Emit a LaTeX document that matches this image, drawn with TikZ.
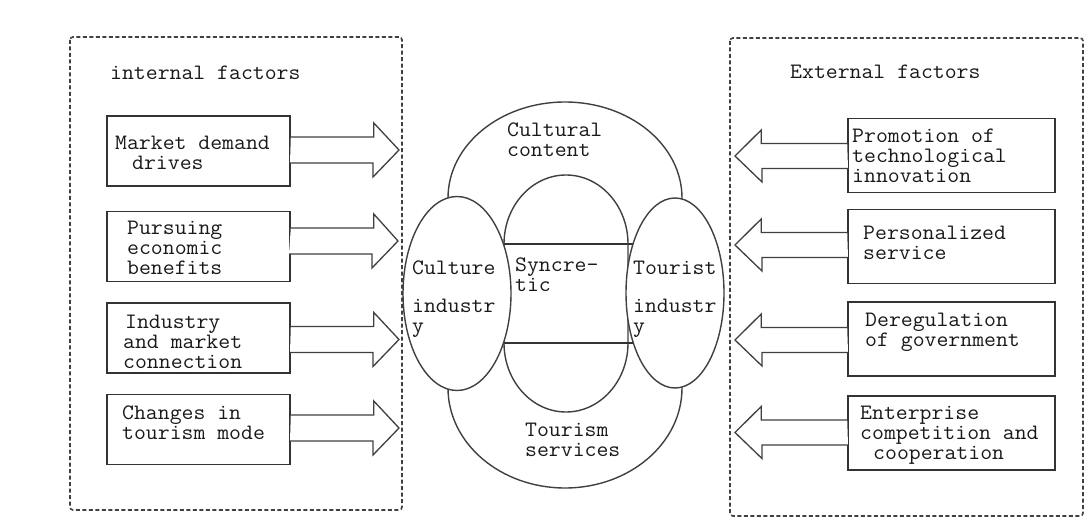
\documentclass[tikz,border=0pt]{standalone}
\usepackage{fontspec}
\setmonofont{Latin Modern Mono}[FakeStretch=1.05]
\usetikzlibrary{shapes.geometric,calc}
\begin{document}
\begin{tikzpicture}[x=1pt,y=-1pt,
  every node/.style={font=\fontsize{22}{20}\ttfamily\selectfont, text=black!90},
  lbox/.style={draw=black!80, line width=1.6pt, rectangle, minimum width=183pt, minimum height=70pt, inner sep=0pt},
  rbox/.style={draw=black!80, line width=1.6pt, rectangle, minimum width=207pt, minimum height=74pt, inner sep=0pt},
  txt/.style={anchor=west, align=left, inner sep=0pt},
  fat/.style={draw=black!75, line width=1.3pt, fill=white, line join=miter},
  frame/.style={draw=black!75, line width=1.6pt, dash pattern=on 4pt off 2.5pt},
  shape line/.style={draw=black!75, line width=1.4pt, fill=white},
  ell/.style={ellipse, draw=black!75, line width=1.4pt, fill=white, inner sep=0pt}]
\useasboundingbox (0,0) rectangle (1090,521);
\fill[white] (0,0) rectangle (1090,521);

% frames
\draw[frame, rounded corners=3pt] (70,37) rectangle (402,510);
\draw[frame, rounded corners=3pt] (730,38) rectangle (1083,516);
\node[txt] (hin) at (110,73) {internal factors};
\node[txt] (hex) at (790,72) {External factors};

% left boxes
\node[lbox] (L1) at (198.5,151) {};
\node[lbox] (L2) at (198.5,246.5) {};
\node[lbox] (L3) at (198.5,338) {};
\node[lbox] (L4) at (198.5,429.5) {};
\node[txt] (tL1) at (115,153) {Market demand\\\hspace*{17pt}drives};
\node[txt] (tL2) at (127,248) {Pursuing\\economic\\benefits};
\node[txt] (tL3) at (123,341.5) {\hspace*{2pt}Industry\\and market\\connection};
\node[txt] (tL4) at (122,423) {Changes in\\tourism mode};

% right boxes
\node[rbox] (R1) at (951.5,155.5) {};
\node[rbox] (R2) at (951.5,246.5) {};
\node[rbox] (R3) at (951.5,339) {};
\node[rbox] (R4) at (951.5,433) {};
\node[txt] (tR1) at (852,155.5) {Promotion of\\technological\\innovation};
\node[txt] (tR2) at (863,242.5) {Personalized\\service};
\node[txt] (tR3) at (865,332.5) {Deregulation\\of government};
\node[txt] (tR4) at (860,435) {Enterprise\\competition and\\\hspace*{13pt}cooperation};

% left arrows
\coordinate (lt1) at (399,150);
\coordinate (lt2) at (398,241);
\coordinate (lt3) at (399,339.5);
\coordinate (lt4) at (399,428);
\foreach \b/\t in {L1/lt1,L2/lt2,L3/lt3,L4/lt4}{
  \draw[fat] (\b.east |- \t) ++(0,-13) -- ++(83,0) -- ++(0,-14) -- (\t) -- ++(-26,27) -- ++(0,-14) -- ++(-83,0);
}
% right arrows
\coordinate (rt1) at (735,156);
\coordinate (rt2) at (735,245);
\coordinate (rt3) at (735,340);
\coordinate (rt4) at (735,432.5);
\foreach \b/\t in {R1/rt1,R2/rt2,R3/rt3,R4/rt4}{
  \draw[fat] (\b.west |- \t) ++(0,-12.5) -- ++(-86,0) -- ++(0,-13.5) -- (\t) -- ++(27,26) -- ++(0,-13.5) -- ++(86,0);
}

% central figure: outer stadium
\draw[shape line] (448,293) -- (448,198)
   arc[start angle=180, end angle=0, x radius=117pt, y radius=96pt]
   -- (682,388)
   arc[start angle=0, end angle=-180, x radius=117pt, y radius=100pt]
   -- cycle;
% middle stadium
\draw[shape line] (504,293) -- (504,244)
   arc[start angle=180, end angle=0, x radius=62pt, y radius=69pt]
   -- (628,343)
   arc[start angle=0, end angle=-180, x radius=62pt, y radius=69pt]
   -- cycle;
\coordinate (a1) at (495,244);
\coordinate (a2) at (635,244);
\coordinate (b1) at (495,343);
\coordinate (b2) at (635,343);
\draw[draw=black!80, line width=1.4pt] (a1) -- (a2);
\draw[draw=black!80, line width=1.6pt] (b1) -- (b2);
\node[ell, minimum width=108pt, minimum height=194pt] (CL) at (457,293.5) {};
\node[ell, minimum width=98pt, minimum height=190pt] (CR) at (675,293) {};

\node[txt] (tcc) at (507,140) {Cultural\\content};
\node[txt] (tts) at (525,440) {Tourism\\services};
\node[txt] (tcl) at (412,299) {Culture\\[18pt]industr\\y};
\node[txt] (tsy) at (515,275) {Syncre-\\tic};
\node[txt] (ttr) at (633,299) {Tourist\\[18pt]industr\\y};
\end{tikzpicture}
\end{document}
